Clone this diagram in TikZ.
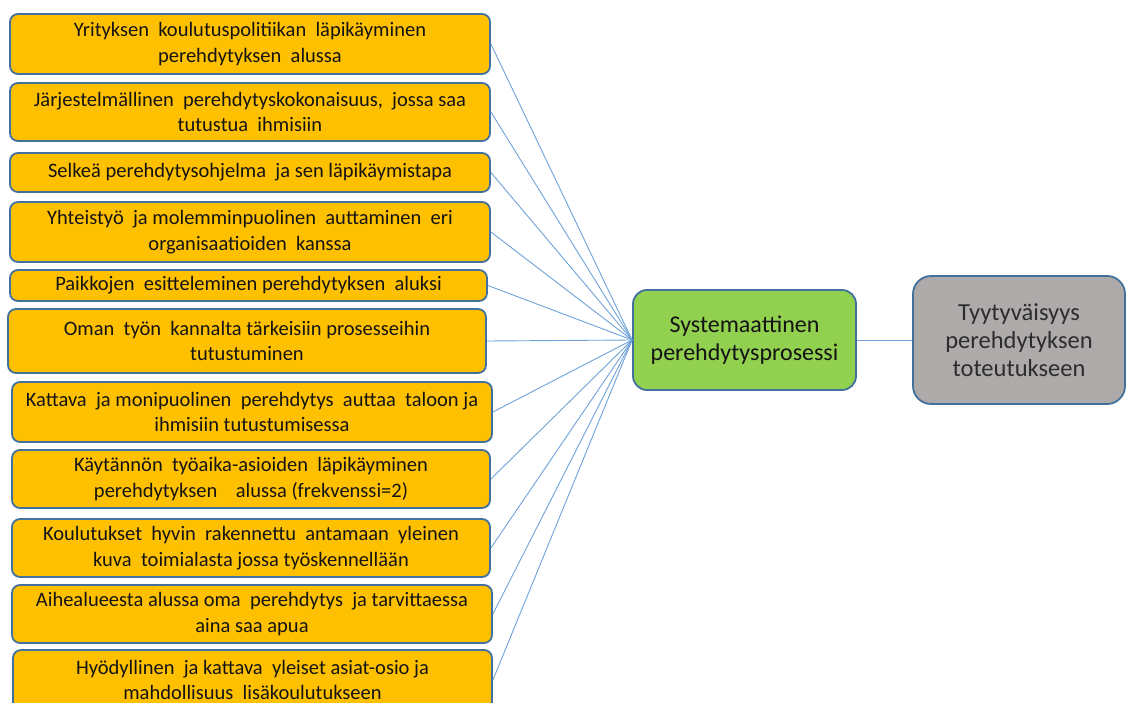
\documentclass[tikz,border=0pt]{standalone}
\usepackage{fontspec}
\setmainfont{Carlito}
\definecolor{leaffill}{HTML}{FFC000}
\definecolor{boxedge}{HTML}{41719C}
\definecolor{hubfill}{HTML}{92D050}
\definecolor{endfill}{HTML}{AEAAAA}
\definecolor{linkcol}{HTML}{6FA3DA}
\definecolor{inkcol}{HTML}{141414}
\begin{document}
\begin{tikzpicture}[x=1pt,y=-1pt,
  leaf/.style={draw=boxedge, line width=1.8pt, fill=leaffill, rounded corners=8pt,
    minimum width=480pt, align=center, inner sep=0pt, text=inkcol,
    font=\fontsize{20.5}{25.5}\selectfont},
  hubbox/.style={draw=boxedge, line width=1.8pt, fill=hubfill, rounded corners=14pt,
    minimum width=223pt, minimum height=100pt, align=center, inner sep=0pt, text=inkcol,
    font=\fontsize{24}{28}\selectfont},
  endbox/.style={draw=boxedge, line width=1.8pt, fill=endfill, rounded corners=18pt,
    minimum width=212pt, minimum height=128pt, align=center, inner sep=0pt, text=inkcol!90,
    font=\fontsize{24.5}{28}\selectfont},
  link/.style={draw=linkcol, line width=0.9pt}]
\useasboundingbox (0,0) rectangle (1127,703);
\clip (0,0) rectangle (1127,703);
\fill[white] (0,0) rectangle (1127,703);

% left column of factors
\node[leaf, minimum height=60pt] (b1) at (250,44) {Yrityksen~ koulutuspolitiikan~ läpikäyminen\\perehdytyksen~ alussa};
\node[leaf, minimum height=58pt] (b2) at (250,112) {Järjestelmällinen~ perehdytyskokonaisuus,~ jossa saa\\tutustua~ ihmisiin};
\node[leaf, minimum height=39pt] (b3) at (250,172.5) {Selkeä perehdytysohjelma~ ja sen läpikäymistapa};
\node[leaf, minimum height=60pt] (b4) at (250,232) {Yhteistyö~ ja molemminpuolinen~ auttaminen~ eri\\organisaatioiden~ kanssa};
\node[leaf, minimum height=31pt, minimum width=477pt] (b5) at (248.5,285.5) {Paikkojen~ esitteleminen perehdytyksen~ aluksi};
\node[leaf, minimum height=64pt, minimum width=478pt] (b6) at (247,341) {Oman~ työn~ kannalta tärkeisiin prosesseihin\\tutustuminen};
\node[leaf, minimum height=60pt] (b7) at (252,412) {Kattava~ ja monipuolinen~ perehdytys~ auttaa~ taloon ja\\ihmisiin tutustumisessa};
\node[leaf, minimum height=58pt, minimum width=478pt] (b8) at (251,479) {Käytännön~ työaika-asioiden~ läpikäyminen\\perehdytyksen~ ~ alussa (frekvenssi=2)};
\node[leaf, minimum height=58pt, minimum width=478pt] (b9) at (251,548) {Koulutukset~ hyvin~ rakennettu~ antamaan~ yleinen\\kuva~ toimialasta jossa työskennellään};
\node[leaf, minimum height=58pt] (b10) at (252,614) {Aihealueesta alussa oma~ perehdytys~ ja tarvittaessa\\aina saa apua};
\node[leaf, minimum height=60pt, minimum width=479pt] (b11) at (252.5,680) {Hyödyllinen~ ja kattava~ yleiset asiat-osio ja\\mahdollisuus~ lisäkoulutukseen};

% central process and outcome
\node[hubbox] (hub) at (744.5,340) {Systemaattinen\\perehdytysprosessi};
\node[endbox] (goal) at (1019,340) {Tyytyväisyys\\perehdytyksen\\toteutukseen};

% connectors
\foreach \b in {b1,b2,b3,b4,b5,b6,b7,b8,b9,b10,b11}
  \draw[link] (\b.east) -- (hub.west);
\draw[link] (hub.east) -- (goal.west);
\end{tikzpicture}
\end{document}
